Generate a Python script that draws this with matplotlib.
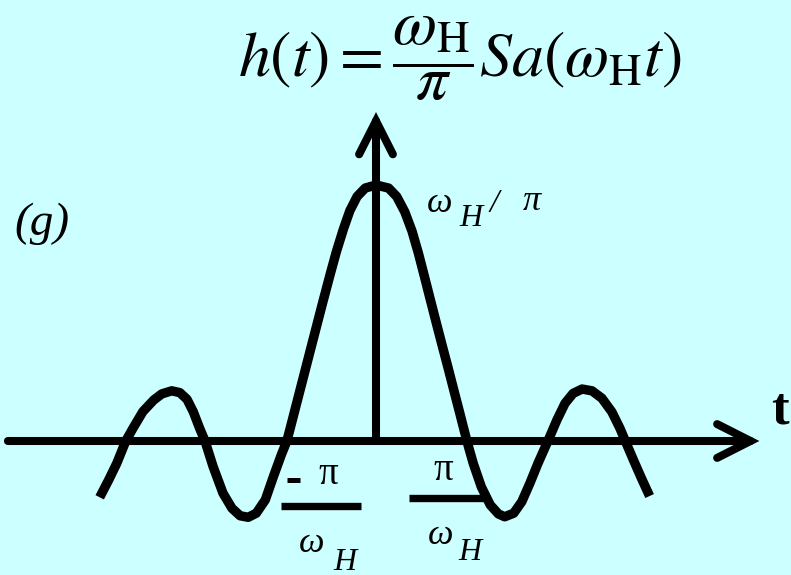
import numpy as np
import matplotlib
matplotlib.use('Agg')
import matplotlib.pyplot as plt

# h(t): t in units of pi/wH, h normalised to the peak wH/pi
t_vals = [-3.07, -2.97, -2.88, -2.78, -2.70, -2.59, -2.47, -2.38, -2.27, -2.18,
          -2.10, -2.03, -1.96, -1.90, -1.81, -1.70, -1.60, -1.51, -1.42, -1.33,
          -1.23, -1.14, -1.05, -0.99, -0.94, -0.86, -0.81, -0.73, -0.66, -0.59,
          -0.51, -0.44, -0.36, -0.29, -0.21, -0.12, 0.00,
          0.14, 0.23, 0.32, 0.40, 0.47, 0.54, 0.60, 0.66, 0.73, 0.80,
          0.86, 0.93, 1.01, 1.08, 1.17, 1.27, 1.36, 1.43, 1.53, 1.62,
          1.71, 1.80, 1.91, 2.01, 2.10, 2.19, 2.29, 2.40, 2.51, 2.62,
          2.71, 2.77, 2.86, 2.95, 3.04]
h_vals = [-0.220, -0.152, -0.087, 0.000, 0.050, 0.115, 0.160, 0.184, 0.196, 0.189,
          0.163, 0.114, 0.050, 0.000, -0.100, -0.204, -0.263, -0.292, -0.298, -0.282,
          -0.230, -0.139, -0.052, 0.000, 0.068, 0.177, 0.245, 0.354, 0.449, 0.544,
          0.650, 0.740, 0.830, 0.900, 0.955, 0.988, 1.000,
          0.988, 0.955, 0.895, 0.820, 0.735, 0.640, 0.557, 0.475, 0.380, 0.287,
          0.205, 0.110, 0.000, -0.087, -0.179, -0.250, -0.285, -0.296, -0.282, -0.237,
          -0.165, -0.087, 0.000, 0.082, 0.147, 0.186, 0.203, 0.196, 0.167, 0.114,
          0.050, 0.000, -0.074, -0.146, -0.215]

t_axis = [-4.09, 4.26]
h_axis_top = 1.285

W, H = 791, 575
bg = '#ccffff'

fig = plt.figure(figsize=(W / 100, H / 100), dpi=100, facecolor=bg)
ax = fig.add_axes([0, 0, 1, 1])
ax.set_facecolor(bg)
ax.set_xlim(-376 / 90, (W - 376) / 90)
ax.set_ylim((441 - H) / 256, 441 / 256)
ax.axis('off')

def P(x, y):
    # pixel position -> figure fraction
    return x / W, 1 - y / H

# axes with open arrow heads
arr = dict(arrowstyle='->,head_length=0.75,head_width=0.38', lw=5.8, color='k',
           mutation_scale=32, shrinkA=0, shrinkB=0, capstyle='round', joinstyle='miter')
ax.annotate('', xy=(t_axis[1], 0), xytext=(t_axis[0], 0), arrowprops=arr)
ax.annotate('', xy=(0, h_axis_top), xytext=(0, 0), arrowprops=arr)

ax.plot(t_vals, h_vals, color='k', lw=6.8, solid_capstyle='butt', solid_joinstyle='round')

plt.rcParams['mathtext.fontset'] = 'stix'
serif = ['Liberation Serif', 'DejaVu Serif']

fig.text(*P(460, 78), r'$h(t)=\dfrac{\omega_{\mathrm{H}}}{\pi}Sa(\omega_{\mathrm{H}}t)$',
         fontsize=46, ha='center', va='baseline')
fig.text(*P(42, 224), '(g)', family=serif, style='italic', fontsize=34, ha='center', va='center')
fig.text(*P(780, 410), 't', family=serif, weight='bold', fontsize=38, ha='center', va='center')

# peak label
fig.text(*P(440, 203), 'ω', family=serif, style='italic', fontsize=26, ha='center', va='center')
fig.text(*P(471, 219), 'H', family=serif, style='italic', fontsize=23, ha='center', va='center')
fig.text(*P(494, 204), '/', family=serif, style='italic', fontsize=24, ha='center', va='center')
fig.text(*P(532, 202), 'π', family=serif, style='italic', fontsize=26, ha='center', va='center')

# -pi/wH and pi/wH tick labels
def bar(x0, x1, y, lw):
    ax.plot([P(x0, 0)[0], P(x1, 0)[0]], [P(0, y)[1]] * 2, color='k', lw=lw,
            transform=fig.transFigure, solid_capstyle='butt')

bar(287, 300, 479.5, 3.6)
bar(281, 361, 506, 5.3)
bar(409, 486, 498, 5.3)
fig.text(*P(328, 474), 'π', family=serif, fontsize=28, ha='center', va='center')
fig.text(*P(443, 471), 'π', family=serif, fontsize=28, ha='center', va='center')
fig.text(*P(312, 543), 'ω', family=serif, style='italic', fontsize=26, ha='center', va='center')
fig.text(*P(345, 562), 'H', family=serif, style='italic', fontsize=23, ha='center', va='center')
fig.text(*P(441, 535), 'ω', family=serif, style='italic', fontsize=26, ha='center', va='center')
fig.text(*P(470, 552), 'H', family=serif, style='italic', fontsize=23, ha='center', va='center')

fig.savefig('out.png', dpi=100, facecolor=bg)
